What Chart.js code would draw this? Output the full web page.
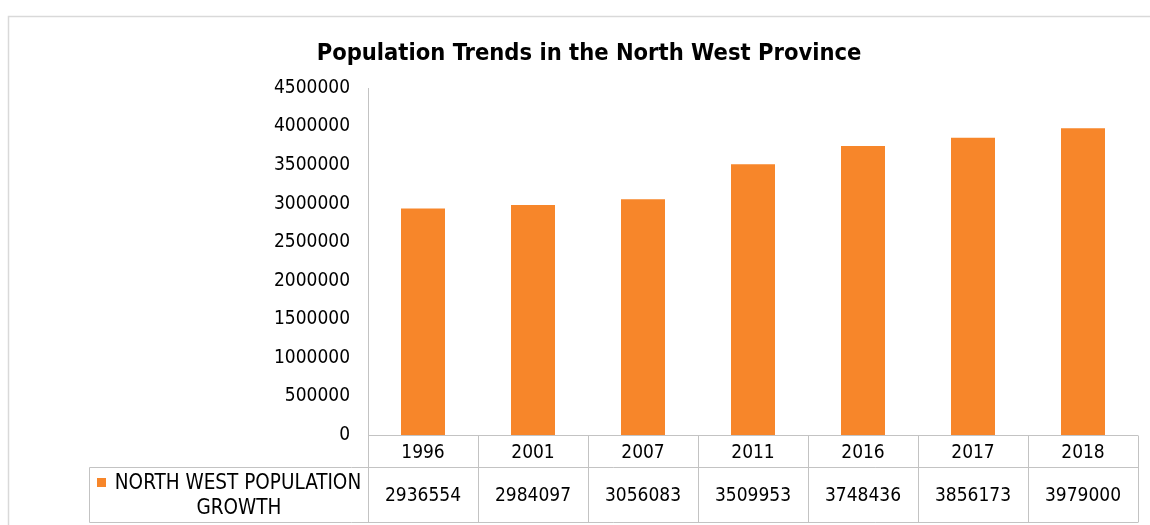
<!DOCTYPE html>
<html><head><meta charset="utf-8">
<script src="https://cdn.jsdelivr.net/npm/chart.js@4"></script>
<style>html,body{margin:0;padding:0;background:#fff;overflow:hidden}</style>
</head><body>
<canvas id="c" width="1150" height="525"></canvas>
<script>
const categories = ['1996', '2001', '2007', '2011', '2016', '2017', '2018'];
const populationValues = [2936554, 2984097, 3056083, 3509953, 3748436, 3856173, 3979000];
const seriesName = 'NORTH WEST POPULATION GROWTH';
const legendLines = ['NORTH WEST POPULATION', 'GROWTH'];
const yMin = 0, yMax = 4500000, yStep = 500000;
const titleText = 'Population Trends in the North West Province';

const FONT = "'DejaVu Sans Condensed','DejaVu Sans',sans-serif";
const BAR_COLOR = '#f7862a';
const LINE_COLOR = '#c3c3c3';

const tablePlugin = {
  id: 'dataTable',
  beforeDraw(chart) {
    const ctx = chart.ctx;
    ctx.save();
    ctx.strokeStyle = '#d9d9d9';
    ctx.lineWidth = 1.5;
    ctx.beginPath();
    ctx.moveTo(8.5, 530); ctx.lineTo(8.5, 16.5); ctx.lineTo(1160, 16.5);
    ctx.stroke();
    ctx.restore();
  },
  afterDraw(chart) {
    const ctx = chart.ctx;
    const ca = chart.chartArea;
    const xs = chart.scales.x;
    const n = categories.length;
    const colW = (ca.right - ca.left) / n;
    const r0 = ca.bottom + 0.5, r1 = 467.5, r2 = 522.5, legLeft = 89.5;
    ctx.save();
    ctx.strokeStyle = LINE_COLOR;
    ctx.lineWidth = 1;
    ctx.beginPath();
    ctx.moveTo(ca.left, r0); ctx.lineTo(ca.right, r0);
    ctx.moveTo(legLeft, r1); ctx.lineTo(ca.right, r1);
    ctx.moveTo(legLeft, r2); ctx.lineTo(ca.right, r2);
    for (let i = 0; i <= n; i++) {
      const x = Math.round(ca.left + i * colW) + 0.5;
      ctx.moveTo(x, r0); ctx.lineTo(x, r2);
    }
    ctx.moveTo(legLeft, r1); ctx.lineTo(legLeft, r2);
    ctx.stroke();
    // values row
    ctx.fillStyle = '#000';
    ctx.font = '19px ' + FONT;
    ctx.textAlign = 'center';
    ctx.textBaseline = 'middle';
    populationValues.forEach((v, i) => {
      ctx.fillText(String(v), xs.getPixelForValue(i), 496);
    });
    // legend key
    ctx.fillStyle = BAR_COLOR;
    ctx.fillRect(97, 478, 9, 9);
    ctx.fillStyle = '#000';
    ctx.font = '20.5px ' + FONT;
    ctx.textAlign = 'center';
    ctx.fillText(legendLines[0], 238, 484);
    ctx.fillText(legendLines[1], 239, 509);
    ctx.restore();
  }
};

new Chart(document.getElementById('c'), {
  type: 'bar',
  data: {
    labels: categories,
    datasets: [{
      label: seriesName,
      data: populationValues,
      backgroundColor: BAR_COLOR,
      borderWidth: 0,
      categoryPercentage: 1,
      barPercentage: 0.40
    }]
  },
  options: {
    responsive: false,
    animation: false,
    devicePixelRatio: 1,
    layout: { padding: { left: 40, right: 12, top: 0, bottom: 0 } },
    plugins: {
      legend: { display: false },
      tooltip: { enabled: false },
      title: {
        display: true,
        text: titleText,
        color: '#000',
        font: { family: FONT, size: 23.5, weight: 'bold', lineHeight: 1.2 },
        padding: { top: 39.5, bottom: 20.3 }
      }
    },
    scales: {
      y: {
        min: yMin, max: yMax,
        ticks: { stepSize: yStep, color: '#000', font: { family: FONT, size: 19 }, padding: 18,
                 callback: v => String(v) },
        grid: { display: false, drawTicks: false },
        border: { display: true, color: LINE_COLOR, width: 1 },
        afterFit: s => { s.width = 328; }
      },
      x: {
        ticks: { color: '#000', font: { family: FONT, size: 19 }, padding: 7, maxRotation: 0 },
        grid: { display: false, drawTicks: false },
        border: { display: false },
        afterFit: s => { s.height = 90; }
      }
    }
  },
  plugins: [tablePlugin]
});
</script>
</body></html>
